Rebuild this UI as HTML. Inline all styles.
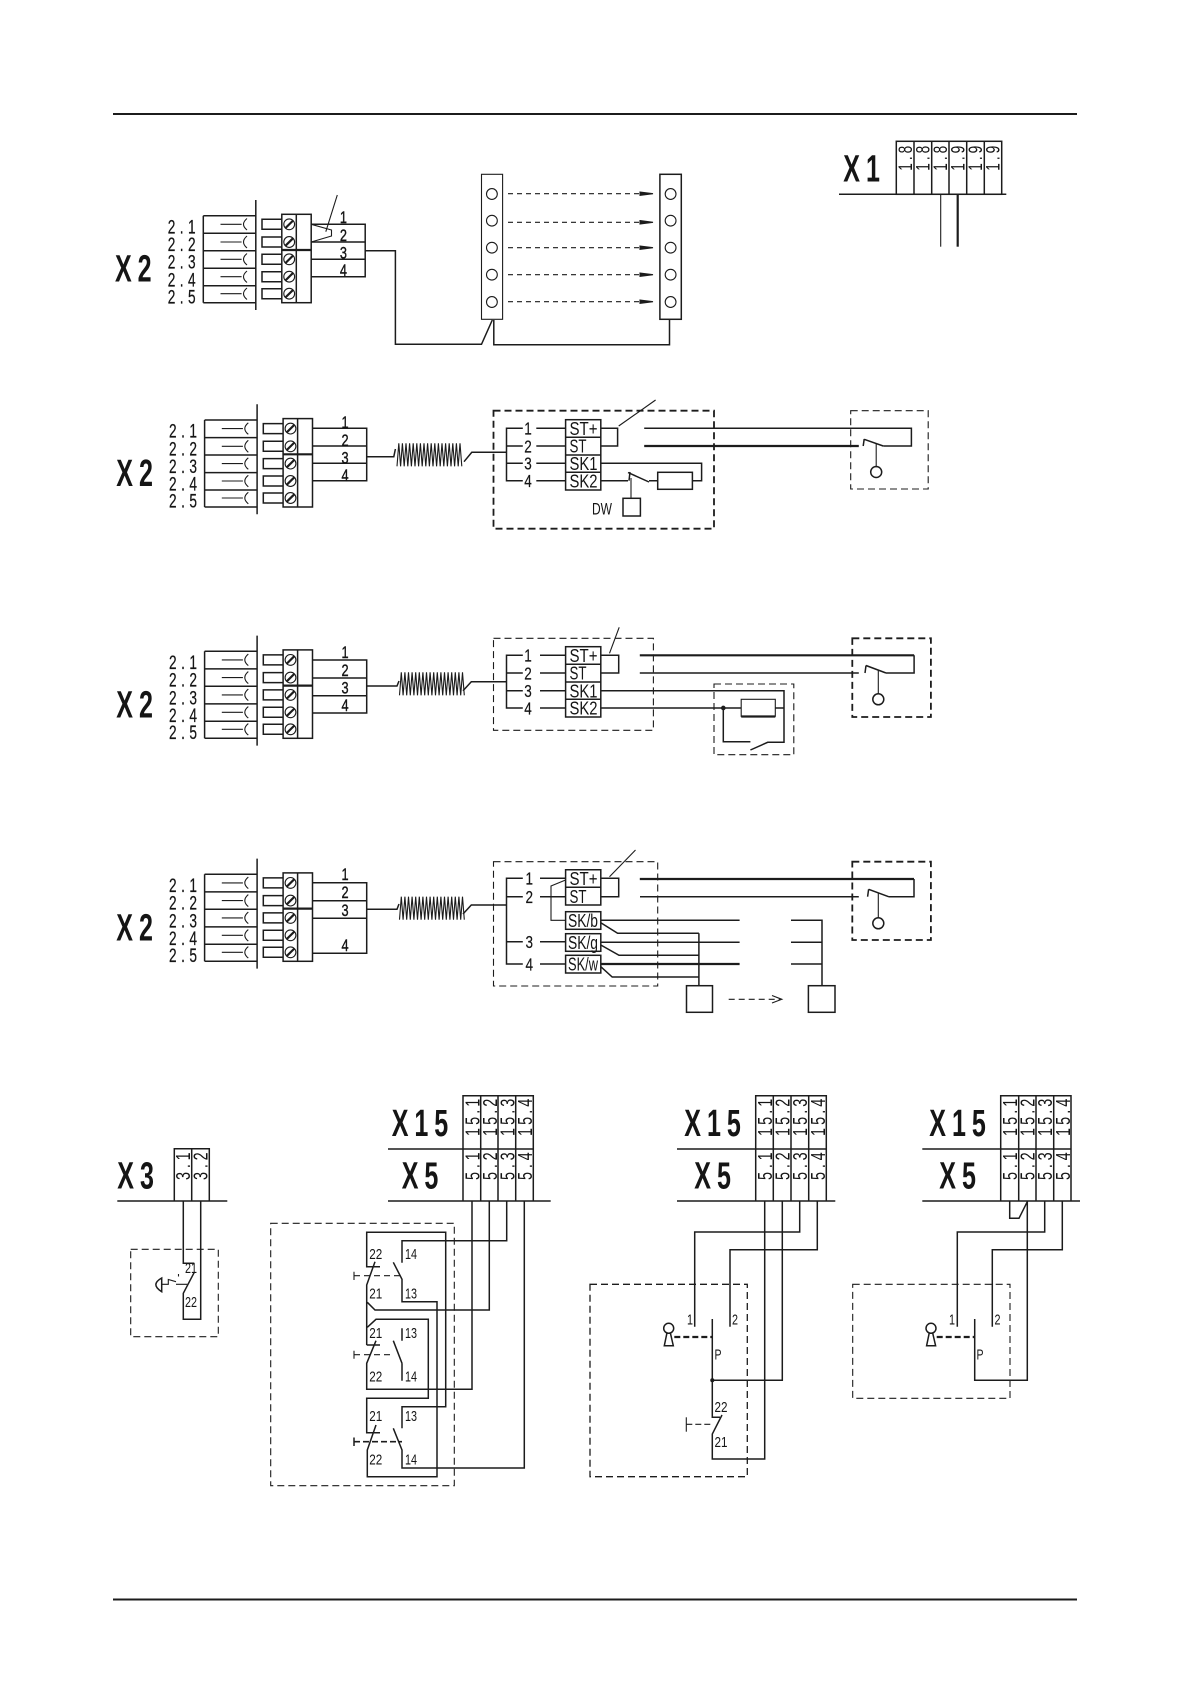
<!DOCTYPE html>
<html><head><meta charset="utf-8"><style>
html,body{margin:0;padding:0;background:#fff}
svg{display:block}
text{font-family:"Liberation Sans",sans-serif;fill:#151515}
.B{font-size:38px;font-weight:bold;letter-spacing:9px}
.c{font-size:19px;letter-spacing:6.2px;stroke:#151515;stroke-width:.25}
.n{font-size:17px;text-anchor:middle;stroke:#151515;stroke-width:.4}
.i{font-size:18px;text-anchor:middle;stroke:#151515;stroke-width:.2}
.k{font-size:18px}
.s{font-size:15px}
.a{font-size:20px;letter-spacing:4.3px}
.b{font-size:20px;letter-spacing:5.3px}
.d{font-size:19px;letter-spacing:4.1px}
path,line,rect,circle,polyline{fill:none;stroke:#1c1c1c;stroke-width:1.1}
.m{stroke-width:1.5}
.h{stroke-width:2.2}
.dd{stroke-dasharray:7 4;stroke-width:1.1}
.dt{stroke-dasharray:7 4;stroke-width:1.8}
</style></head><body>
<svg width="1191" height="1684" viewBox="0 0 1191 1684" xmlns="http://www.w3.org/2000/svg">
<defs>
<g id="conn">
<path class="m" d="M255.8,200V310M203.3,215.7H255.8M203.3,233.3H255.8M203.3,250.7H255.8M203.3,268.3H255.8M203.3,285.7H255.8M203.3,302.7H255.8M203.3,215.7V302.7"/>
<path d="M220.5,224.3H241.6M247,218.5Q240,224.3 247,230M220.5,242H241.6M247,236Q240,242 247,248M220.5,259.3H241.6M247,253.5Q240,259.3 247,265M220.5,276.7H241.6M247,271Q240,276.7 247,282.5M220.5,293.7H241.6M247,288Q240,293.7 247,299.5"/>
<path class="m" d="M282,219.3H262V229.3H282M282,237H262V247H282M282,254.3H262V264.3H282M282,271.7H262V281.7H282M282,288.7H262V298.7H282"/>
<rect class="m" x="281.8" y="214.3" width="29.4" height="88.4"/>
<line class="m" x1="296.3" y1="214.3" x2="296.3" y2="302.7"/>
<line class="h" x1="281.8" y1="250" x2="311.2" y2="250"/>
<g class="m">
<circle cx="289.2" cy="224.3" r="5.4"/><circle cx="289.2" cy="242" r="5.4"/><circle cx="289.2" cy="259.3" r="5.4"/><circle cx="289.2" cy="276.7" r="5.4"/><circle cx="289.2" cy="293.7" r="5.4"/>
</g>
<path class="h" d="M285.5,228L293,220.6M285.5,245.7L293,238.3M285.5,263L293,255.6M285.5,280.4L293,273M285.5,297.4L293,290"/>
</g>
<polyline id="coil" points="2,23 3.8,0 5.6,23 7.4,0 9.2,23 11,0 12.8,23 14.6,0 16.4,23 18.2,0 20,23 21.8,0 23.6,23 25.4,0 27.2,23 29,0 30.8,23 32.6,0 34.4,23 36.2,0 38,23 39.8,0 41.6,23 43.4,0 45.2,23 47,0 48.8,23 50.6,0 52.4,23 54.2,0 56,23 57.8,0 59.6,23 61.4,0 63.2,23 65,0 66.8,23"/>
</defs>
<rect x="0" y="0" width="1191" height="1684" style="fill:#fff;stroke:none"/>
<line x1="113" y1="114" x2="1077" y2="114" style="stroke-width:2"/>
<line x1="113" y1="1599.5" x2="1077" y2="1599.5" style="stroke-width:2"/>

<!-- Section 1 -->
<g>
<use href="#conn"/>
<text class="B" transform="translate(115,281.7) scale(.66,1)">X2</text>
<text class="c" transform="translate(167.7,233.4) scale(.72,1)">2.1</text>
<text class="c" transform="translate(167.7,251) scale(.72,1)">2.2</text>
<text class="c" transform="translate(167.7,268.7) scale(.72,1)">2.3</text>
<text class="c" transform="translate(167.7,286.4) scale(.72,1)">2.4</text>
<text class="c" transform="translate(167.7,303.4) scale(.72,1)">2.5</text>
</g>
<path class="m" d="M311.2,224.3H365.2V276.7H311.2M311.2,242H365.2M311.2,259.3H365.2"/>
<text class="n" transform="translate(343.4,223) scale(.75,1)">1</text>
<text class="n" transform="translate(343.4,240.8) scale(.75,1)">2</text>
<text class="n" transform="translate(343.4,258.5) scale(.75,1)">3</text>
<text class="n" transform="translate(343.4,275.8) scale(.75,1)">4</text>
<path d="M311.2,224.3L331.5,230V236L311.2,242M337.3,195L325.8,231.7"/>
<path class="m" d="M365.2,250.7H395.4V344.3H481.5L492.3,320M493.8,320V344.7H669.5V319.3"/>
<rect x="481.5" y="174.3" width="21.1" height="145"/>
<rect class="m" x="659.9" y="174.3" width="21.4" height="145"/>
<circle cx="491.9" cy="194" r="5.4"/><circle cx="491.9" cy="220.7" r="5.4"/><circle cx="491.9" cy="247.7" r="5.4"/><circle cx="491.9" cy="274.7" r="5.4"/><circle cx="491.9" cy="302" r="5.4"/>
<circle cx="670.6" cy="194" r="5.4"/><circle cx="670.6" cy="220.7" r="5.4"/><circle cx="670.6" cy="247.7" r="5.4"/><circle cx="670.6" cy="274.7" r="5.4"/><circle cx="670.6" cy="302" r="5.4"/>
<path stroke-dasharray="5 4" d="M508,193.7H642M508,222.3H642M508,247.7H642M508,274.7H642M508,301.7H642"/>
<path style="fill:#1c1c1c" d="M640,192L653,193.7L640,195.4ZM640,220.6L653,222.3L640,224ZM640,246L653,247.7L640,249.4ZM640,273L653,274.7L640,276.4ZM640,300L653,301.7L640,303.4Z"/>

<!-- X1 -->
<text class="B" transform="translate(843.3,181.7) scale(.66,1)">X1</text>
<rect class="m" x="896.3" y="141.3" width="105.4" height="53"/>
<path class="m" d="M914,141.3V194.3M931.7,141.3V194.3M949,141.3V194.3M966.7,141.3V194.3M984.3,141.3V194.3M839,194.3H1006.3"/>
<line x1="940.7" y1="194.3" x2="940.7" y2="246.7"/>
<line class="h" x1="957.7" y1="194.3" x2="957.7" y2="246.7"/>
<text class="d" transform="translate(911.8,170.7) rotate(-90) scale(.72,1)">1.8</text>
<text class="d" transform="translate(929.4,170.7) rotate(-90) scale(.72,1)">1.8</text>
<text class="d" transform="translate(947,170.7) rotate(-90) scale(.72,1)">1.8</text>
<text class="d" transform="translate(964.4,170.7) rotate(-90) scale(.72,1)">1.9</text>
<text class="d" transform="translate(982,170.7) rotate(-90) scale(.72,1)">1.9</text>
<text class="d" transform="translate(999.6,170.7) rotate(-90) scale(.72,1)">1.9</text>

<!-- Section 2 -->
<g transform="translate(1.3,204.3)">
<use href="#conn"/>
<text class="B" transform="translate(115,281.7) scale(.66,1)">X2</text>
<text class="c" transform="translate(167.7,233.4) scale(.72,1)">2.1</text>
<text class="c" transform="translate(167.7,251) scale(.72,1)">2.2</text>
<text class="c" transform="translate(167.7,268.7) scale(.72,1)">2.3</text>
<text class="c" transform="translate(167.7,286.4) scale(.72,1)">2.4</text>
<text class="c" transform="translate(167.7,303.4) scale(.72,1)">2.5</text>
</g>
<path class="m" d="M312.5,428.3H366.7V480.7H312.5M312.5,446H366.7M312.5,463.3H366.7M366.7,456.7H393.8L395.4,449"/>
<text class="n" transform="translate(345,428.1) scale(.75,1)">1</text>
<text class="n" transform="translate(345,445.8) scale(.75,1)">2</text>
<text class="n" transform="translate(345,463.5) scale(.75,1)">3</text>
<text class="n" transform="translate(345,480.8) scale(.75,1)">4</text>
<use href="#coil" transform="translate(395,443.3)"/>
<path class="m" d="M464,461.7L471.8,452.3H506.5M522.8,428.3H506.5V480.7H522.8M506.5,446H522.8M506.5,463.3H522.8M536.3,428.3H565.6M536.3,446H565.6M536.3,463.3H565.6M536.3,480.7H565.6"/>
<path class="dt" d="M493.5,410.7H714V528.7H493.5Z"/>
<rect class="m" x="565.6" y="419.7" width="35.2" height="70.3"/>
<path class="m" d="M565.6,437.3H600.8M565.6,455H600.8M565.6,472.3H600.8"/>
<text class="i" transform="translate(528,434.7) scale(.75,1)">1</text>
<text class="i" transform="translate(528,452.4) scale(.75,1)">2</text>
<text class="i" transform="translate(528,469.7) scale(.75,1)">3</text>
<text class="i" transform="translate(528,487.1) scale(.75,1)">4</text>
<text class="k" x="569.5" y="435" textLength="28" lengthAdjust="spacingAndGlyphs">ST+</text>
<text class="k" x="569.5" y="452.7" textLength="17" lengthAdjust="spacingAndGlyphs">ST</text>
<text class="k" x="569.5" y="470" textLength="28" lengthAdjust="spacingAndGlyphs">SK1</text>
<text class="k" x="569.5" y="487.4" textLength="28" lengthAdjust="spacingAndGlyphs">SK2</text>
<path class="m" d="M600.8,428.3H617.6V446H600.8"/>
<path d="M655.6,400L618.7,426"/>
<path class="m" d="M600.8,463.3H701.6V480.7H692.4M600.8,480.7H628M630,472L629,480.7M628,472.5L649,482M649,480.7H657.7"/>
<rect class="m" x="657.7" y="472.3" width="34.7" height="17"/>
<line x1="631" y1="478" x2="631" y2="498.3"/>
<rect class="m" x="623" y="498.3" width="17.4" height="17.7"/>
<text class="k" x="592" y="514.5" textLength="20" lengthAdjust="spacingAndGlyphs" style="font-size:17px">DW</text>
<path class="m" d="M644.2,428.3H911.4V446H883.2"/>
<line class="h" x1="644.2" y1="446" x2="858.8" y2="446"/>
<path class="m" d="M864.2,439.3L883.2,446M864.2,439L863.2,446"/>
<line x1="876.2" y1="443.3" x2="876.2" y2="467.3"/>
<circle class="m" cx="876.2" cy="472" r="5.5"/>
<path class="dd" d="M850.7,410.7H928.2V489H850.7Z"/>

<!-- Section 3 -->
<g transform="translate(1.3,435.6)">
<use href="#conn"/>
<text class="B" transform="translate(115,281.7) scale(.66,1)">X2</text>
<text class="c" transform="translate(167.7,233.4) scale(.72,1)">2.1</text>
<text class="c" transform="translate(167.7,251) scale(.72,1)">2.2</text>
<text class="c" transform="translate(167.7,268.7) scale(.72,1)">2.3</text>
<text class="c" transform="translate(167.7,286.4) scale(.72,1)">2.4</text>
<text class="c" transform="translate(167.7,303.4) scale(.72,1)">2.5</text>
</g>
<path class="m" d="M312.5,660H366.7V713H312.5M312.5,678H366.7M312.5,695.7H366.7M366.7,686H397L399,681"/>
<text class="n" transform="translate(345,658) scale(.75,1)">1</text>
<text class="n" transform="translate(345,675.8) scale(.75,1)">2</text>
<text class="n" transform="translate(345,693.5) scale(.75,1)">3</text>
<text class="n" transform="translate(345,710.8) scale(.75,1)">4</text>
<use href="#coil" transform="translate(397.5,672.3)"/>
<path class="m" d="M463,690.7L471.3,681.7H506.5M522.8,655.3H506.5V708H522.8M506.5,673H522.8M506.5,690.7H522.8M540,655.3H565.6M540,673H565.6M540,690.7H565.6M540,708H565.6"/>
<path class="dd" d="M493.5,638.3H653.4V730.3H493.5Z"/>
<rect class="m" x="565.6" y="646.7" width="35.2" height="70.3"/>
<path class="m" d="M565.6,664.3H600.8M565.6,682H600.8M565.6,699.3H600.8"/>
<text class="i" transform="translate(528,661.7) scale(.75,1)">1</text>
<text class="i" transform="translate(528,679.4) scale(.75,1)">2</text>
<text class="i" transform="translate(528,697.1) scale(.75,1)">3</text>
<text class="i" transform="translate(528,714.4) scale(.75,1)">4</text>
<text class="k" x="569.5" y="662" textLength="28" lengthAdjust="spacingAndGlyphs">ST+</text>
<text class="k" x="569.5" y="679.7" textLength="17" lengthAdjust="spacingAndGlyphs">ST</text>
<text class="k" x="569.5" y="697.4" textLength="28" lengthAdjust="spacingAndGlyphs">SK1</text>
<text class="k" x="569.5" y="714.7" textLength="28" lengthAdjust="spacingAndGlyphs">SK2</text>
<path class="m" d="M600.8,655.3H618.7V673H600.8"/>
<path d="M619.2,627.3L609.5,653.3"/>
<line class="h" x1="639.8" y1="655.3" x2="914.1" y2="655.3"/>
<path class="m" d="M914.1,655.3V673H886M639.8,673H858.8M866,665.5L886,673M866,665.5L865,673"/>
<line x1="878.3" y1="670" x2="878.3" y2="694"/>
<circle class="m" cx="878.3" cy="699.3" r="5.5"/>
<path class="dt" d="M852.3,638.3H930.9V717H852.3Z"/>
<path class="m" d="M600.8,690.7H784V742.3H767.7L750.4,750M600.8,708H741.2M775.3,708H784M723.3,708V741.7H750.4"/>
<circle style="fill:#1c1c1c" cx="723.3" cy="708" r="1.8"/>
<rect x="741.2" y="699.3" width="34.1" height="17"/>
<line class="h" x1="741.2" y1="716.5" x2="775.3" y2="716.5"/>
<path class="dd" d="M714,684H793.8V754.7H714Z"/>

<!-- Section 4 -->
<g transform="translate(1.3,658.6)">
<use href="#conn"/>
<text class="B" transform="translate(115,281.7) scale(.66,1)">X2</text>
<text class="c" transform="translate(167.7,233.4) scale(.72,1)">2.1</text>
<text class="c" transform="translate(167.7,251) scale(.72,1)">2.2</text>
<text class="c" transform="translate(167.7,268.7) scale(.72,1)">2.3</text>
<text class="c" transform="translate(167.7,286.4) scale(.72,1)">2.4</text>
<text class="c" transform="translate(167.7,303.4) scale(.72,1)">2.5</text>
</g>
<path class="m" d="M312.5,882.7H366.7V953.3H312.5M312.5,900.7H366.7M312.5,918.3H366.7M366.7,909.3H397L399,904"/>
<text class="n" transform="translate(345,879.8) scale(.75,1)">1</text>
<text class="n" transform="translate(345,898.1) scale(.75,1)">2</text>
<text class="n" transform="translate(345,915.8) scale(.75,1)">3</text>
<text class="n" transform="translate(345,951.1) scale(.75,1)">4</text>
<use href="#coil" transform="translate(397.5,896.7)"/>
<path class="m" d="M463,914L471.3,905H506.5M522.8,878.3H506.5V964H522.8M506.5,896.7H522.8M506.5,941.7H522.8M540,878.3H565.6M540,896.7H565.6M540,941.7H565.6M540,964H565.6"/>
<path class="dd" d="M493.5,861.7H657.7V986H493.5Z"/>
<path class="m" d="M565.6,869.7H600.8V905H565.6ZM565.6,887.3H600.8"/>
<rect class="m" x="565.6" y="911.7" width="35.2" height="17.6"/>
<rect class="m" x="565.6" y="933.7" width="35.2" height="17.6"/>
<rect class="m" x="565.6" y="955.3" width="35.2" height="17.7"/>
<text class="i" transform="translate(529.3,884.7) scale(.75,1)">1</text>
<text class="i" transform="translate(529.3,903.1) scale(.75,1)">2</text>
<text class="i" transform="translate(529.3,948.1) scale(.75,1)">3</text>
<text class="i" transform="translate(529.3,970.4) scale(.75,1)">4</text>
<text class="k" x="569.5" y="885" textLength="28" lengthAdjust="spacingAndGlyphs">ST+</text>
<text class="k" x="569.5" y="903" textLength="17" lengthAdjust="spacingAndGlyphs">ST</text>
<text class="k" x="568" y="927" textLength="30" lengthAdjust="spacingAndGlyphs">SK/b</text>
<text class="k" x="568" y="949" textLength="30" lengthAdjust="spacingAndGlyphs">SK/g</text>
<text class="k" x="568" y="970.7" textLength="30" lengthAdjust="spacingAndGlyphs">SK/w</text>
<path d="M565.6,880L551,886V920.3H565.6"/>
<path class="m" d="M600.8,878.3H618.7V896.7H600.8"/>
<path d="M635.5,850L609.5,876.7"/>
<line class="h" x1="639.8" y1="879" x2="914" y2="879"/>
<path class="m" d="M914,879V896.7H888.6M640,896.7H858.8M868.6,889.3L888.6,896.7M868.6,889.3L867.6,896.7"/>
<line x1="878.3" y1="893.3" x2="878.3" y2="918.3"/>
<circle class="m" cx="878.3" cy="923.3" r="5.5"/>
<path class="dt" d="M852.3,861.7H930.9V940H852.3Z"/>
<path class="m" d="M600.8,920.3H739.6M600.8,942.3H739.6"/>
<line class="h" x1="600.8" y1="964" x2="739.6" y2="964"/>
<path class="m" d="M600.8,922.7L617.6,933.3H698.9M600.8,945L619,955.3H698.9M600.8,966.7L612.2,977H698.9M698.9,933.3V985.7"/>
<rect class="m" x="686.5" y="985.7" width="26" height="26.6"/>
<path class="m" d="M791,920.3H822V985.7M791,942.3H822M791,964H822"/>
<rect class="m" x="808.4" y="985.7" width="26.6" height="26.6"/>
<path stroke-dasharray="6 4" d="M728.7,999.3H780"/>
<path d="M772,995.5L781.8,999.3L772,1003"/>

<!-- X3 -->
<text class="B" transform="translate(117.3,1188.3) scale(.66,1)">X3</text>
<path class="m" d="M174.3,1201V1148.7H209.3V1201M191.7,1148.7V1201M117.3,1201H227.3"/>
<text class="b" transform="translate(190,1180) rotate(-90) scale(.72,1)">3.1</text>
<text class="b" transform="translate(207.5,1180) rotate(-90) scale(.72,1)">3.2</text>
<path class="m" d="M183.3,1201V1263.3H194.3M200.7,1201V1319.3H183.3V1293.3L194.3,1272.3"/>
<text class="s" x="185" y="1273" textLength="12" lengthAdjust="spacingAndGlyphs">21</text>
<text class="s" x="185" y="1307" textLength="12" lengthAdjust="spacingAndGlyphs">22</text>
<path class="m" d="M161.7,1278Q150,1284.5 161.7,1291.7Z"/>
<path d="M161.7,1284.3H168.3V1279.5L176,1281.7M176,1284.3H187.3M178.5,1274V1276.5"/>
<path class="dd" d="M130.7,1249.3H218.3V1336.7H130.7Z"/>

<!-- X15/X5 block 1 -->
<text class="B" transform="translate(391.7,1136) scale(.66,1)">X15</text>
<text class="B" transform="translate(401.7,1188.3) scale(.66,1)">X5</text>
<path class="m" d="M463,1201V1095.7H533.3V1201M480.7,1095.7V1201M498,1095.7V1201M515.7,1095.7V1201M388,1149H533.3M388,1201H550.7"/>
<text class="a" transform="translate(479.3,1136) rotate(-90) scale(.72,1)">15.1</text>
<text class="a" transform="translate(497,1136) rotate(-90) scale(.72,1)">15.2</text>
<text class="a" transform="translate(514.5,1136) rotate(-90) scale(.72,1)">15.3</text>
<text class="a" transform="translate(532,1136) rotate(-90) scale(.72,1)">15.4</text>
<text class="b" transform="translate(479.3,1180) rotate(-90) scale(.72,1)">5.1</text>
<text class="b" transform="translate(497,1180) rotate(-90) scale(.72,1)">5.2</text>
<text class="b" transform="translate(514.5,1180) rotate(-90) scale(.72,1)">5.3</text>
<text class="b" transform="translate(532,1180) rotate(-90) scale(.72,1)">5.4</text>
<path class="m" d="M472,1201V1389.3H366.7V1363.3L376,1340.7M366.7,1345H380M489.3,1201V1310H375L367.3,1302.3M506.7,1201V1240.7H402V1262.7M524.3,1201V1468H402V1450L393.3,1428.3M380,1266.7H366.7V1232.3H445.7V1406.7H402V1428.3M375,1261.7L366.7,1285V1345"/>
<path class="m" d="M367.3,1327.3L376,1319.3H428.3V1398.3H366.7V1432.7H380M376,1425L367.3,1450V1476.7H437V1301.7H402V1279.3L393.3,1262.3M402,1328.3V1340.7M402,1363.3L393.3,1340.7M402,1363.3V1380.7"/>
<path d="M354,1271.7V1280M354,1350.7V1358.7"/>
<path stroke-dasharray="6 4" d="M354,1275.7H402M354,1354.7H393"/>
<path class="m" stroke-dasharray="6 3" style="stroke-width:1.6" d="M354,1441.7H402"/>
<path class="m" d="M354,1437.5V1446"/>
<text class="s" x="369.3" y="1259" textLength="13" lengthAdjust="spacingAndGlyphs">22</text><text class="s" x="405" y="1259" textLength="12" lengthAdjust="spacingAndGlyphs">14</text>
<text class="s" x="369.3" y="1298.5" textLength="13" lengthAdjust="spacingAndGlyphs">21</text><text class="s" x="405" y="1298.5" textLength="12" lengthAdjust="spacingAndGlyphs">13</text>
<text class="s" x="369.3" y="1338" textLength="13" lengthAdjust="spacingAndGlyphs">21</text><text class="s" x="405" y="1338" textLength="12" lengthAdjust="spacingAndGlyphs">13</text>
<text class="s" x="369.3" y="1381.5" textLength="13" lengthAdjust="spacingAndGlyphs">22</text><text class="s" x="405" y="1381.5" textLength="12" lengthAdjust="spacingAndGlyphs">14</text>
<text class="s" x="369.3" y="1421" textLength="13" lengthAdjust="spacingAndGlyphs">21</text><text class="s" x="405" y="1421" textLength="12" lengthAdjust="spacingAndGlyphs">13</text>
<text class="s" x="369.3" y="1464.5" textLength="13" lengthAdjust="spacingAndGlyphs">22</text><text class="s" x="405" y="1464.5" textLength="12" lengthAdjust="spacingAndGlyphs">14</text>
<path class="dd" d="M270.7,1223.3H454.3V1485.7H270.7Z"/>

<!-- X15/X5 block 2 -->
<text class="B" transform="translate(684.3,1136) scale(.66,1)">X15</text>
<text class="B" transform="translate(694.3,1188.3) scale(.66,1)">X5</text>
<path class="m" d="M755.7,1201V1095.7H826.3V1201M773.3,1095.7V1201M791,1095.7V1201M808.7,1095.7V1201M677,1149H826.3M677,1201H835.3"/>
<text class="a" transform="translate(772,1136) rotate(-90) scale(.72,1)">15.1</text>
<text class="a" transform="translate(789.5,1136) rotate(-90) scale(.72,1)">15.2</text>
<text class="a" transform="translate(807,1136) rotate(-90) scale(.72,1)">15.3</text>
<text class="a" transform="translate(825,1136) rotate(-90) scale(.72,1)">15.4</text>
<text class="b" transform="translate(772,1180) rotate(-90) scale(.72,1)">5.1</text>
<text class="b" transform="translate(789.5,1180) rotate(-90) scale(.72,1)">5.2</text>
<text class="b" transform="translate(807,1180) rotate(-90) scale(.72,1)">5.3</text>
<text class="b" transform="translate(825,1180) rotate(-90) scale(.72,1)">5.4</text>
<path class="m" d="M764.7,1201V1459H712.3V1434L722,1415M782.3,1201V1380.3H712.3M799.7,1201V1232H694.7V1326.7M817.3,1201V1249.7H730V1326.7M712.3,1319V1417.3H720"/>
<path class="h" stroke-dasharray="6 3" d="M674.3,1337H712.3"/>
<circle class="m" cx="668.7" cy="1328.3" r="5"/>
<path class="m" d="M667,1332.7L664.3,1345.7H673.3L670.3,1332.7"/>
<path d="M686.3,1417.3V1431.7"/>
<path stroke-dasharray="6 3" d="M686.3,1424.3H711.7"/>
<circle style="fill:#1c1c1c" cx="712.3" cy="1380.3" r="1.5"/>
<text class="s" x="687" y="1324.5" textLength="6" lengthAdjust="spacingAndGlyphs">1</text>
<text class="s" x="732" y="1324.5" textLength="6" lengthAdjust="spacingAndGlyphs">2</text>
<text class="s" x="714.5" y="1359.5" textLength="7" lengthAdjust="spacingAndGlyphs">P</text>
<text class="s" x="714.5" y="1412" textLength="13" lengthAdjust="spacingAndGlyphs">22</text>
<text class="s" x="714.5" y="1447" textLength="13" lengthAdjust="spacingAndGlyphs">21</text>
<path class="dt" style="stroke-width:1.3" d="M590,1284.3H747.3V1476.7H590Z"/>

<!-- X15/X5 block 3 -->
<text class="B" transform="translate(929.3,1136) scale(.66,1)">X15</text>
<text class="B" transform="translate(939.3,1188.3) scale(.66,1)">X5</text>
<path class="m" d="M1000.7,1201V1095.7H1071V1201M1018.7,1095.7V1201M1036,1095.7V1201M1053.7,1095.7V1201M922.3,1149H1071M922.3,1201H1080"/>
<text class="a" transform="translate(1017,1136) rotate(-90) scale(.72,1)">15.1</text>
<text class="a" transform="translate(1034.7,1136) rotate(-90) scale(.72,1)">15.2</text>
<text class="a" transform="translate(1052,1136) rotate(-90) scale(.72,1)">15.3</text>
<text class="a" transform="translate(1070,1136) rotate(-90) scale(.72,1)">15.4</text>
<text class="b" transform="translate(1017,1180) rotate(-90) scale(.72,1)">5.1</text>
<text class="b" transform="translate(1034.7,1180) rotate(-90) scale(.72,1)">5.2</text>
<text class="b" transform="translate(1052,1180) rotate(-90) scale(.72,1)">5.3</text>
<text class="b" transform="translate(1070,1180) rotate(-90) scale(.72,1)">5.4</text>
<path class="m" d="M1009.7,1201V1218.3H1019L1027.3,1201.7M1027.3,1201V1380.3H974.7V1319M1044.7,1201V1232H957.3V1326.7M1062.3,1201V1249.7H992.3V1326.7"/>
<path class="h" stroke-dasharray="6 3" d="M936.7,1337H974.7"/>
<circle class="m" cx="931" cy="1328.3" r="5"/>
<path class="m" d="M929.3,1332.7L926.6,1345.7H935.6L932.6,1332.7"/>
<text class="s" x="949" y="1324.5" textLength="6" lengthAdjust="spacingAndGlyphs">1</text>
<text class="s" x="994.5" y="1324.5" textLength="6" lengthAdjust="spacingAndGlyphs">2</text>
<text class="s" x="976.5" y="1359.5" textLength="7" lengthAdjust="spacingAndGlyphs">P</text>
<path class="dd" d="M852.7,1284.3H1010V1398.3H852.7Z"/>
</svg>
</body></html>
